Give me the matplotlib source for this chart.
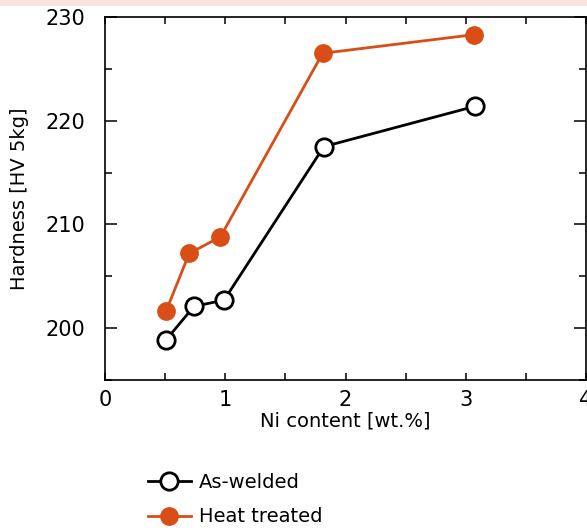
import numpy as np
import matplotlib.pyplot as plt
from matplotlib.patches import Rectangle
from matplotlib.ticker import MultipleLocator

# Data
ni_heat = [0.51, 0.70, 0.96, 1.81, 3.07]
hv_heat = [201.7, 207.2, 208.8, 226.5, 228.3]
ni_welded = [0.51, 0.74, 0.99, 1.82, 3.08]
hv_welded = [198.9, 202.1, 202.7, 217.5, 221.4]

orange = '#d84e16'

plt.rcParams['font.family'] = ['DejaVu Sans']
plt.rcParams['font.size'] = 14

fig = plt.figure(figsize=(5.87, 5.28), dpi=100)
# thin pink band along the top edge
fig.patches.append(Rectangle((0, 1 - 6 / 528), 1, 6 / 528, transform=fig.transFigure,
                             facecolor='#f9e4dc', edgecolor='none', zorder=0))

ax = fig.add_axes([105 / 587, 1 - 380 / 528, 481 / 587, 363 / 528])

ax.plot(ni_welded, hv_welded, '-o', color='black', lw=2, ms=12.5,
        mfc='white', mec='black', mew=2, label='As-welded', clip_on=False)
ax.plot(ni_heat, hv_heat, '-o', color=orange, lw=2, ms=12.5,
        mfc=orange, mec=orange, label='Heat treated', clip_on=False)

ax.set_xlim(0, 4)
ax.set_ylim(195, 230)
ax.xaxis.set_major_locator(MultipleLocator(1))
ax.xaxis.set_minor_locator(MultipleLocator(0.5))
ax.yaxis.set_major_locator(MultipleLocator(10))
ax.yaxis.set_minor_locator(MultipleLocator(5))
ax.tick_params(which='both', direction='in', top=True, right=True, width=1.1,
               labelsize=15)
ax.tick_params(axis='x', which='both', length=5, pad=7)
ax.tick_params(axis='y', which='major', length=8.5, pad=14)
ax.tick_params(axis='y', which='minor', length=5)
for s in ax.spines.values():
    s.set_linewidth(1.2)

ax.set_xlabel('Ni content [wt.%]', labelpad=1)
ax.set_ylabel('Hardness [HV 5kg]', labelpad=12)

fig.legend(loc='upper left', bbox_to_anchor=(140 / 587, 1 - 465 / 528), frameon=False,
           handlelength=2.2, handletextpad=0.45, labelspacing=0.8, borderaxespad=0)

fig.savefig('out.png', dpi=100)
